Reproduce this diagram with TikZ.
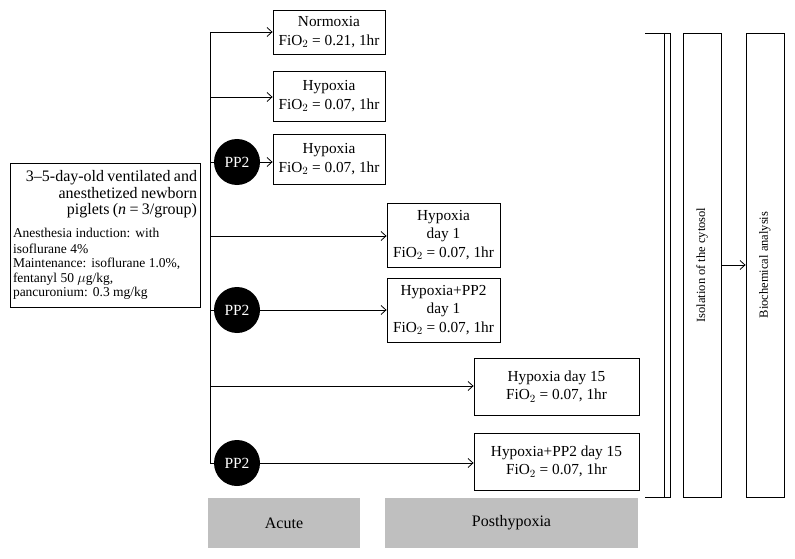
\documentclass[tikz,border=0pt]{standalone}
\usepackage{fontspec}
\setmainfont{Liberation Serif}
\usetikzlibrary{arrows.meta}
\tikzset{
  conn/.style={line width=0.8pt},
  grp/.style={draw, conn, align=center, inner sep=2pt, font=\fontsize{15.3}{18.5}\selectfont},
  drug/.style={circle, fill=black, text=white, minimum size=46pt, inner sep=0pt, font=\fontsize{15.5}{15.5}\selectfont},
  stage/.style={draw, conn, rotate=90, minimum width=464pt, minimum height=38pt, inner sep=0pt, font=\fontsize{12.5}{14}\selectfont},
  phase/.style={fill=gray!50, minimum height=50pt, inner sep=0pt, font=\fontsize{16}{18}\selectfont},
}
\begin{document}
\begin{tikzpicture}[x=1pt,y=-1pt,>={Straight Barb[length=5pt,width=9pt]}]
\useasboundingbox (0,0) rectangle (795,559);

% piglets
\node[draw, conn, text width=184pt, inner sep=3pt, minimum height=144pt] (pig) at (105,235) {%
{\fontsize{16}{16.5}\selectfont\raggedleft 3--5-day-old ventilated and\\ anesthetized newborn\\ piglets (\textit{n} = 3/group)\par}
\vspace{8pt}
{\fontsize{13.5}{14.5}\selectfont\raggedright Anesthesia induction: with\\[1.5pt] isoflurane 4\%\\ Maintenance: isoflurane 1.0\%,\\ fentanyl 50 $\mu$g/kg,\\ pancuronium: 0.3 mg/kg\par}};

% groups
\node[grp, minimum width=112pt, minimum height=44pt] (norm) at (329,32) {Normoxia\\FiO$_2$ = 0.21, 1hr};
\node[grp, minimum width=112pt, minimum height=50pt] (hyp) at (329,96) {Hypoxia\\FiO$_2$ = 0.07, 1hr};
\node[grp, minimum width=112pt, minimum height=50pt] (hyppp) at (329,159) {Hypoxia\\FiO$_2$ = 0.07, 1hr};
\node[grp, minimum width=113pt, minimum height=64pt] (hypdA) at (443.5,235) {Hypoxia\\day 1\\FiO$_2$ = 0.07, 1hr};
\node[grp, minimum width=113pt, minimum height=64pt] (pppdA) at (443.5,310) {Hypoxia+PP2\\day 1\\FiO$_2$ = 0.07, 1hr};
\node[grp, minimum width=165pt, minimum height=57pt] (hypdB) at (556.5,386.5) {Hypoxia day 15\\FiO$_2$ = 0.07, 1hr};
\node[grp, minimum width=165pt, minimum height=57pt] (pppdB) at (556.5,461.5) {Hypoxia+PP2 day 15\\FiO$_2$ = 0.07, 1hr};

% PP2
\node[drug] (ppA) at (237,162) {PP2};
\node[drug] (ppB) at (237,310) {PP2};
\node[drug] (ppC) at (237,463) {PP2};

% bus
\coordinate (top) at (210,32);
\coordinate (bB) at (210,97);
\coordinate (bD) at (210,236);
\coordinate (bF) at (210,386);
\coordinate (bot) at (210,463);
\draw[conn] (top) -- (bot);
\draw[conn,->] (top) -- (top -| norm.west);
\draw[conn,->] (bB) -- (bB -| hyp.west);
\draw[conn] (ppA -| top) -- (ppA);
\draw[conn,->] (ppA) -- (ppA -| hyppp.west);
\draw[conn,->] (bD) -- (bD -| hypdA.west);
\draw[conn] (ppB -| top) -- (ppB);
\draw[conn,->] (ppB) -- (ppB -| pppdA.west);
\draw[conn,->] (bF) -- (bF -| hypdB.west);
\draw[conn] (bot) -- (ppC);
\draw[conn,->] (ppC) -- (ppC -| pppdB.west);

% bracket
\draw[conn] (645,33) -- (670,33) -- (670,497) -- (645,497);
\draw[conn] (664,33) -- (664,497);

% processing
\node[stage] (iso) at (702,265) {Isolation of the cytosol};
\node[stage] (bio) at (765,265) {Biochemical analysis};
\draw[conn,->] (iso) -- (bio);

% phases
\node[phase, minimum width=152pt] (acute) at (284,523) {Acute};
\node[phase, minimum width=253pt] (post) at (511.5,523) {Posthypoxia};
\end{tikzpicture}
\end{document}
